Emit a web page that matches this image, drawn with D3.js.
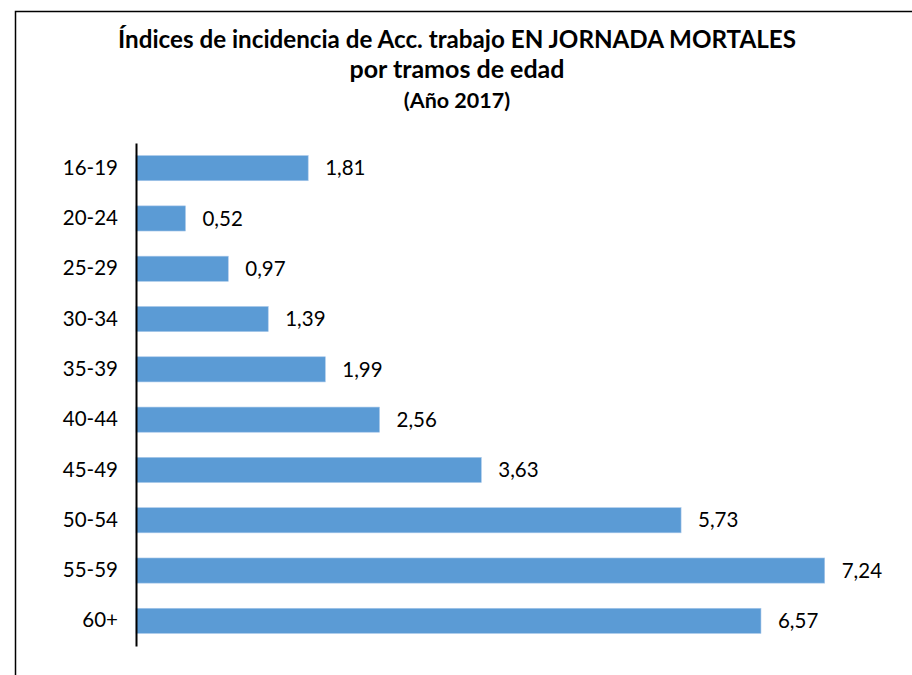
<!DOCTYPE html>
<meta charset="utf-8">
<style>
  body { margin: 0; background: #fff; }
  text { font-family: Lato, "Open Sans", sans-serif; fill: #000; }
</style>
<body>
<script src="https://d3js.org/d3.v7.min.js"></script>
<script>
// age groups and incidence values
var groups = ["16-19", "20-24", "25-29", "30-34", "35-39", "40-44", "45-49", "50-54", "55-59", "60+"];
var values = [1.81, 0.52, 0.97, 1.39, 1.99, 2.56, 3.63, 5.73, 7.24, 6.57];
var titleLines = ["Índices de incidencia de Acc. trabajo EN JORNADA MORTALES", "por tramos de edad", "(Año 2017)"];

var W = 912, H = 675;
var svg = d3.select("body").append("svg")
    .attr("width", W)
    .attr("height", H);

// chart frame (runs off the right and bottom edges)
svg.append("rect")
    .attr("x", 15.5).attr("y", 11.5)
    .attr("width", W + 10).attr("height", H + 10)
    .attr("fill", "none")
    .attr("stroke", "#000")
    .attr("stroke-width", 1.5);

// title
var titleY = [48, 78, 108];
var titleSize = [24.2, 25, 21.5];
svg.selectAll(".title")
    .data(titleLines)
    .enter().append("text")
    .attr("class", "title")
    .attr("x", 457)
    .attr("y", function(d, i) { return titleY[i]; })
    .attr("text-anchor", "middle")
    .style("font-weight", "bold")
    .style("font-size", function(d, i) { return titleSize[i] + "px"; })
    .text(function(d) { return d; });

// scales
var x = d3.scaleLinear().domain([0, 8]).range([136, 897]);
var y = d3.scaleBand().domain(groups).range([143, 646]).paddingInner(0.5).paddingOuter(0.25);

var rows = groups.map(function(g, i) { return {group: g, value: values[i]}; });

// bars
svg.selectAll(".bar")
    .data(rows)
    .enter().append("rect")
    .attr("class", "bar")
    .attr("x", x(0))
    .attr("y", function(d) { return y(d.group); })
    .attr("width", function(d) { return x(d.value) - x(0); })
    .attr("height", y.bandwidth())
    .attr("fill", "#5b9bd5")
    .attr("stroke", "#a9c8ea")
    .attr("stroke-width", 0.6);

// value labels
var fmt = function(v) { return d3.format(".2f")(v).replace(".", ","); };
svg.selectAll(".val")
    .data(rows)
    .enter().append("text")
    .attr("class", "val")
    .attr("x", function(d) { return x(d.value) + 17; })
    .attr("y", function(d) { return y(d.group) + y.bandwidth() / 2; })
    .attr("dy", "0.35em")
    .style("font-size", "20.5px")
    .text(function(d) { return fmt(d.value); });

// category axis
var axis = svg.append("g")
    .attr("transform", "translate(" + x(0) + ",0)")
    .call(d3.axisLeft(y).tickSize(0).tickPadding(18));
axis.select(".domain").attr("stroke", "#000").attr("stroke-width", 2);
axis.selectAll("text")
    .style("font-family", "Lato, 'Open Sans', sans-serif")
    .style("font-size", "20.5px")
    .attr("fill", "#000");
</script>
</body>
